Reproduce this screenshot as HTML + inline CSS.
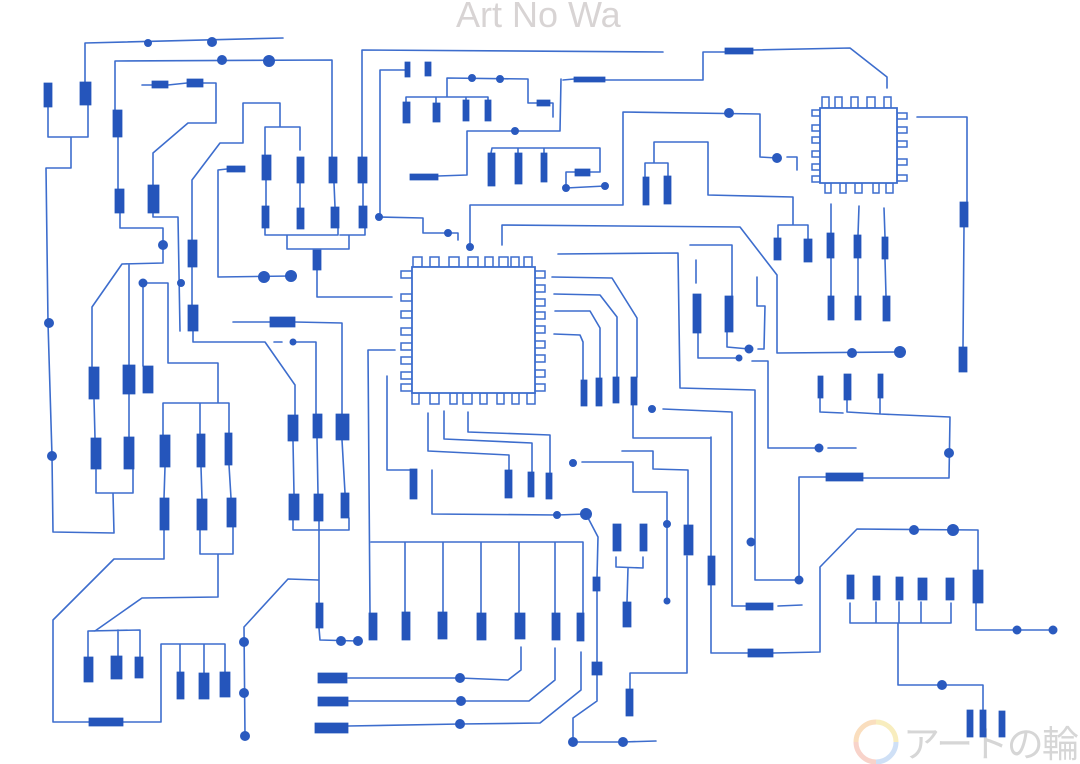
<!DOCTYPE html>
<html><head><meta charset="utf-8"><style>
html,body{margin:0;padding:0;background:#fff;}
svg{display:block;}
</style></head><body>
<svg width="1080" height="764" viewBox="0 0 1080 764" xmlns="http://www.w3.org/2000/svg">
<rect width="1080" height="764" fill="#fff"/>
<text x="456" y="27" font-family="Liberation Sans, sans-serif" font-size="36" fill="#d8d4d4">Art No Wa</text>
<g fill="none" stroke-width="5" opacity="0.55">
<path d="M876 722A20 20 0 0 0 856 742" stroke="#f6c48a"/>
<path d="M856 742A20 20 0 0 0 876 762" stroke="#f3b0a0"/>
<path d="M876 722A20 20 0 0 1 896 742" stroke="#f4e08a"/>
<path d="M896 742A20 20 0 0 1 876 762" stroke="#a9c8ef"/>
</g>
<text x="903" y="757" font-family="Liberation Sans, 'Noto Sans CJK JP', sans-serif" font-size="37" fill="#d6d6d6" textLength="176">アートの輪</text>

<path fill="none" stroke="#3d6dcd" stroke-width="1.6" stroke-linejoin="round" stroke-linecap="round" d="
M85 83L85 43 283 38M115 110L115 61 332 60 332 157M362 157L362 50 663 52M48 107L48 137 88 137 88 105
M71 137L71 168 46 168 48 323 52 456 53 532 114 533 113 493M96 469L96 493 133 493 133 469M118 137L118 189
M120 213L120 228 163 228 163 263 122 264 92 307 92 367M129 264L129 365M129 394L129 437M94 399L95 438
M142 85L152 85M168 85L187 83M203 83L216 83 216 123 188 123 153 153 153 185M153 213L153 217 178 217 180 331
M192 240L192 180 220 143 243 143 243 103 280 103 280 127M265 155L265 127 300 127 300 150M192 267L192 305
M193 331L193 342 265 342 295 385 295 415M227 169L218 170 218 277 291 276M266 180L266 206M300 183L300 208
M334 183L335 207M363 183L363 206M265 228L265 235 338 235 338 228M340 235L365 235 365 228
M287 235L287 249 349 249 349 235M317 270L317 297 392 297M143 283L168 283 168 363 218 363 218 403
M163 435L163 403 229 403 229 433M200 403L200 434M143 283L143 366M165 467L164 498M201 467L202 499M229 465L231 498
M164 530L164 559 114 559 53 620 53 722 89 722M123 722L161 722 161 644 225 644 225 672M180 644L180 672M204 644L204 673
M200 530L200 554 233 554 233 527M218 554L218 597 142 598 95 631M88 657L88 631 140 630 140 657M118 630L118 656
M233 322L270 322M295 322L342 323 342 414M274 342L282 342M293 342L316 342 316 414M293 441L294 494M317 438L318 494
M342 440L345 493M293 520L293 530 349 530 349 518M319 521L319 603M319 628L320 640 358 641M244 627L288 579 318 580
M244 627L245 736M368 350L395 350M368 350L370 613M387 376L387 470 410 470M371 542L583 542M405 542L405 612
M443 542L443 612M481 542L481 613M519 542L519 613M555 542L555 613M583 542L583 613
M521 647L521 670 508 680 460 678 348 678M555 648L555 680 529 701 461 701 348 701M581 652L581 690 540 723 460 724 348 726
M432 470L432 514 557 515 586 514 598 537 597 577M597 591L597 662M597 675L597 701 573 718 573 742 623 742 656 741
M616 557L616 567 643 568 643 557M628 568L627 602M667 492L667 601M622 451L653 451 653 469 688 470 688 525
M687 556L687 673 630 673 630 689M711 437L711 557M711 585L711 653 748 653M773 653L820 652 820 567 857 529 978 530 978 570
M976 603L976 630 1053 630M633 405L633 438 711 438M663 409L732 412 732 606 746 606M778 606L802 605
M582 462L633 462 633 492 667 492M558 254L678 253 680 388 755 390 755 580 799 580 799 477 826 477
M863 478L949 478 950 417 880 414 880 398M847 400L847 412 880 414M820 398L820 412 843 413
M752 361L768 361 768 448 819 448M828 448L856 448M698 333L698 358 739 358M502 245L502 225 740 227 777 275 777 353 900 352
M690 245L732 245 732 296M727 332L727 347 749 349M696 260L696 283M757 277L757 306 765 306 764 349 758 349
M552 277L612 278 637 318 637 377M554 294L600 295 617 317 617 377M555 311L590 311 600 328 600 378M554 334L580 335 583 342 583 380
M428 413L428 451 509 455 509 470M444 411L444 439 532 443 532 472M468 412L468 432 550 435 550 473
M563 80L574 79M605 80L703 80 703 52 725 52M753 50L850 48 887 77 887 88M561 79L560 131 467 131 467 175 438 176
M380 70L405 70M380 70L380 217 423 218 423 233 458 233 458 240M447 97L447 78 528 79 528 103 537 103M550 103L553 103 553 117
M406 102L406 97 488 97 488 100M436 97L436 103M466 97L466 100M491 153L492 148 600 148 600 172 590 172M518 148L518 153
M544 148L544 153M575 172L566 172 566 188 605 186M623 112L760 114 760 157 777 158M787 157L797 157 797 170
M623 112L623 205 470 205 470 247M708 195L708 142 654 142 654 163M645 177L645 163 668 163 668 176M708 195L793 197 793 225
M778 238L778 225 808 225 808 239M917 117L967 117 967 202M964 227L963 347M831 204L831 233M859 206L858 235M884 208L885 237
M831 258L831 296M858 258L858 296M885 259L886 296M850 603L850 623 951 623 951 603M876 602L876 623M899 602L899 623
M921 602L921 623M898 623L898 685 983 685 983 710"/>

<path fill="#2555bb" stroke="#2555bb" stroke-width="0.8" d="
M44 83h8v24h-8zM80 82h11v23h-11zM113 110h9v27h-9zM115 189h9v24h-9zM148 185h11v28h-11zM152 81h16v7h-16zM187 79h16v8h-16z
M188 240h9v27h-9zM188 305h10v26h-10zM227 166h18v6h-18zM262 155h9v25h-9zM297 157h7v26h-7zM329 157h8v26h-8zM358 157h9v26h-9z
M262 206h7v22h-7zM297 208h7v21h-7zM331 207h8v21h-8zM359 206h8v22h-8zM313 250h8v20h-8z
M89 367h10v32h-10zM123 365h12v29h-12zM143 366h10v27h-10zM91 438h10v31h-10zM124 437h10v32h-10z
M160 435h10v32h-10zM197 434h8v33h-8zM225 433h7v32h-7zM160 498h9v32h-9zM197 499h10v31h-10zM227 498h9v29h-9z
M84 657h9v25h-9zM111 656h11v23h-11zM135 657h8v21h-8zM89 718h34v8h-34zM177 672h7v27h-7zM199 673h10v26h-10zM220 672h10v25h-10z
M270 317h25v10h-25zM288 415h10v26h-10zM313 414h9v24h-9zM336 414h13v26h-13zM289 494h10v26h-10zM314 494h9v27h-9zM341 493h8v25h-8z
M316 603h7v25h-7zM369 613h8v27h-8zM402 612h8v28h-8zM438 612h9v27h-9zM477 613h9v27h-9zM515 613h10v26h-10zM552 613h8v27h-8zM577 613h7v28h-7z
M318 673h29v10h-29zM318 697h30v9h-30zM315 723h33v10h-33zM410 469h7v30h-7zM505 470h7v28h-7zM528 472h6v25h-6zM546 473h6v26h-6z
M581 380h6v26h-6zM596 378h6v28h-6zM613 377h6v26h-6zM631 377h6v28h-6zM593 577h7v14h-7zM592 662h10v13h-10z
M613 524h8v27h-8zM640 524h7v27h-7zM623 602h8v25h-8zM684 525h9v30h-9zM626 689h7v27h-7zM708 556h7v29h-7z
M748 649h25v8h-25zM746 603h27v7h-27zM826 473h37v8h-37zM973 570h10v33h-10z
M847 575h7v24h-7zM873 576h7v24h-7zM896 577h7v23h-7zM918 578h9v22h-9zM946 578h8v22h-8z
M967 710h6v27h-6zM980 710h6v27h-6zM999 711h6v26h-6z
M403 102h7v21h-7zM433 103h7v19h-7zM463 100h6v21h-6zM485 100h6v21h-6zM405 62h5v15h-5zM425 62h6v14h-6z
M488 153h7v33h-7zM515 153h7v31h-7zM541 153h6v29h-6zM575 169h15v7h-15zM537 100h13v6h-13zM410 174h28v6h-28z
M574 77h31v5h-31zM725 48h28v6h-28zM643 177h6v28h-6zM664 176h7v28h-7zM693 294h8v39h-8zM725 296h8v36h-8z
M774 238h7v22h-7zM804 239h8v23h-8zM827 233h7v25h-7zM854 235h7v23h-7zM882 237h6v22h-6z
M828 296h6v24h-6zM855 296h6v24h-6zM883 296h7v25h-7zM818 376h5v22h-5zM844 374h7v26h-7zM878 374h5v24h-5z
M960 202h8v25h-8zM959 347h8v25h-8z"/>

<path fill="#2a5abf" d="
M144 43a4 4 0 1 0 8 0a4 4 0 1 0-8 0M207 42a5 5 0 1 0 10 0a5 5 0 1 0-10 0M217 60a5 5 0 1 0 10 0a5 5 0 1 0-10 0
M263 61a6 6 0 1 0 12 0a6 6 0 1 0-12 0M158 245a5 5 0 1 0 10 0a5 5 0 1 0-10 0M177 283a4 4 0 1 0 8 0a4 4 0 1 0-8 0
M138.5 283a4.5 4.5 0 1 0 9 0a4.5 4.5 0 1 0-9 0M44 323a5 5 0 1 0 10 0a5 5 0 1 0-10 0M47 456a5 5 0 1 0 10 0a5 5 0 1 0-10 0
M258 277a6 6 0 1 0 12 0a6 6 0 1 0-12 0M285 276a6 6 0 1 0 12 0a6 6 0 1 0-12 0M289.5 342a3.5 3.5 0 1 0 7 0a3.5 3.5 0 1 0-7 0
M239 642a5 5 0 1 0 10 0a5 5 0 1 0-10 0M239 693a5 5 0 1 0 10 0a5 5 0 1 0-10 0M240 736a5 5 0 1 0 10 0a5 5 0 1 0-10 0
M336 641a5 5 0 1 0 10 0a5 5 0 1 0-10 0M353 641a5 5 0 1 0 10 0a5 5 0 1 0-10 0
M375 217a4 4 0 1 0 8 0a4 4 0 1 0-8 0M444 233a4 4 0 1 0 8 0a4 4 0 1 0-8 0M468 78a4 4 0 1 0 8 0a4 4 0 1 0-8 0
M496 79a4 4 0 1 0 8 0a4 4 0 1 0-8 0M511 131a4 4 0 1 0 8 0a4 4 0 1 0-8 0M562 188a4 4 0 1 0 8 0a4 4 0 1 0-8 0
M601 186a4 4 0 1 0 8 0a4 4 0 1 0-8 0M466 247a4 4 0 1 0 8 0a4 4 0 1 0-8 0
M724 113a5 5 0 1 0 10 0a5 5 0 1 0-10 0M772 158a5 5 0 1 0 10 0a5 5 0 1 0-10 0
M553 515a4 4 0 1 0 8 0a4 4 0 1 0-8 0M580 514a6 6 0 1 0 12 0a6 6 0 1 0-12 0
M568 742a5 5 0 1 0 10 0a5 5 0 1 0-10 0M618 742a5 5 0 1 0 10 0a5 5 0 1 0-10 0
M455 678a5 5 0 1 0 10 0a5 5 0 1 0-10 0M456 701a5 5 0 1 0 10 0a5 5 0 1 0-10 0M455 724a5 5 0 1 0 10 0a5 5 0 1 0-10 0
M569 463a4 4 0 1 0 8 0a4 4 0 1 0-8 0M648 409a4 4 0 1 0 8 0a4 4 0 1 0-8 0
M663 524a4 4 0 1 0 8 0a4 4 0 1 0-8 0M663.5 601a3.5 3.5 0 1 0 7 0a3.5 3.5 0 1 0-7 0
M746.5 542a4.5 4.5 0 1 0 9 0a4.5 4.5 0 1 0-9 0M794.5 580a4.5 4.5 0 1 0 9 0a4.5 4.5 0 1 0-9 0
M735.5 358a3.5 3.5 0 1 0 7 0a3.5 3.5 0 1 0-7 0M744.5 349a4.5 4.5 0 1 0 9 0a4.5 4.5 0 1 0-9 0
M847 353a5 5 0 1 0 10 0a5 5 0 1 0-10 0M894 352a6 6 0 1 0 12 0a6 6 0 1 0-12 0
M814.5 448a4.5 4.5 0 1 0 9 0a4.5 4.5 0 1 0-9 0M944 453a5 5 0 1 0 10 0a5 5 0 1 0-10 0
M909 530a5 5 0 1 0 10 0a5 5 0 1 0-10 0M947 530a6 6 0 1 0 12 0a6 6 0 1 0-12 0
M1012.5 630a4.5 4.5 0 1 0 9 0a4.5 4.5 0 1 0-9 0M1048.5 630a4.5 4.5 0 1 0 9 0a4.5 4.5 0 1 0-9 0
M937 685a5 5 0 1 0 10 0a5 5 0 1 0-10 0"/>

<path fill="#fff" stroke="#3d6dcd" stroke-width="1.5" d="
M413 257h9v10h-9zM430 257h9v10h-9zM449 257h10v10h-10zM468 257h10v10h-10zM485 257h8v10h-8zM499 257h9v10h-9zM511 257h8v10h-8zM524 257h8v10h-8z
M401 271h11v7h-11zM401 294h11v7h-11zM401 311h11v7h-11zM401 328h11v7h-11zM401 343h11v7h-11zM401 357h11v7h-11zM401 372h11v7h-11zM401 384h11v7h-11z
M535 271h10v7h-10zM535 285h10v7h-10zM535 299h10v7h-10zM535 312h10v7h-10zM535 326h10v7h-10zM535 341h10v7h-10zM535 355h10v7h-10zM535 370h10v7h-10zM535 384h10v7h-10z
M412 393h7v11h-7zM430 393h9v11h-9zM450 393h7v11h-7zM463 393h9v11h-9zM480 393h7v11h-7zM497 393h7v11h-7zM512 393h7v11h-7zM527 393h8v11h-8z
M822 97h7v11h-7zM835 97h7v11h-7zM851 97h7v11h-7zM867 97h8v11h-8zM884 97h7v11h-7z
M812 110h8v6h-8zM812 125h8v6h-8zM812 137h8v6h-8zM812 151h8v6h-8zM812 164h8v6h-8zM812 176h8v6h-8z
M897 113h10v6h-10zM897 127h10v6h-10zM897 141h10v6h-10zM897 159h10v6h-10zM897 175h10v6h-10z
M825 183h6v10h-6zM840 183h6v10h-6zM855 183h7v10h-7zM873 183h6v10h-6zM886 183h7v10h-7z"/>
<path fill="#fff" stroke="#3d6dcd" stroke-width="1.8" d="M412 267h123v126h-123zM820 108h77v75h-77z"/>
</svg>
</body></html>
